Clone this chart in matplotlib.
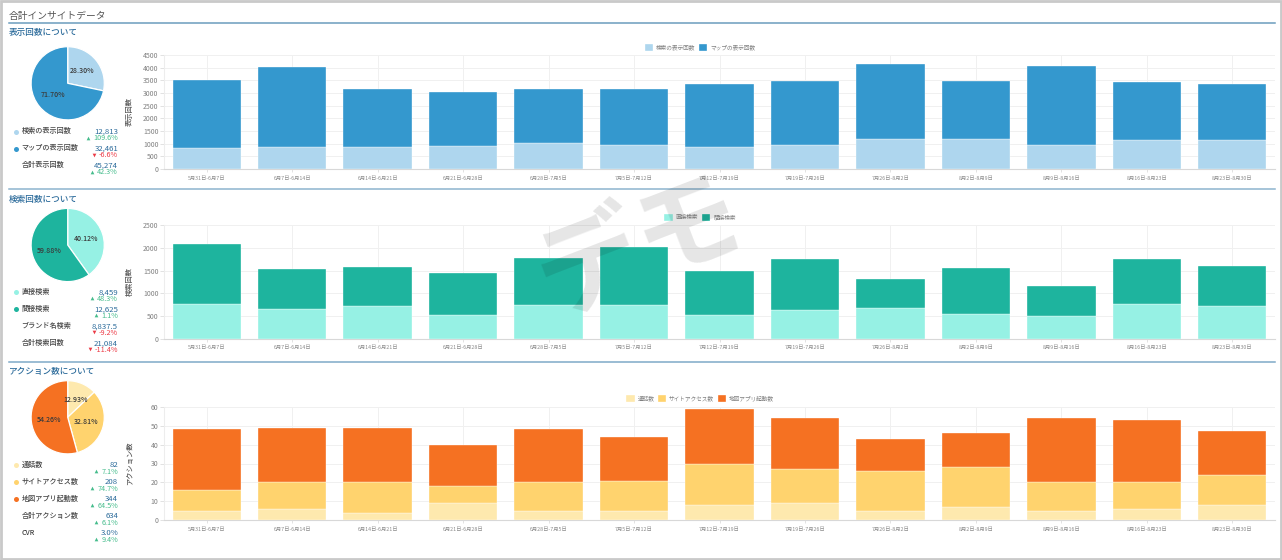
import matplotlib
matplotlib.use('Agg')
import numpy as np
import matplotlib.pyplot as plt
from matplotlib.patches import Rectangle

plt.rcParams['font.family'] = ['Noto Sans CJK JP', 'DejaVu Sans']

W, H = 1282, 560

date_labels = ['5月31日-6月7日', '6月7日-6月14日', '6月14日-6月21日', '6月21日-6月28日',
               '6月28日-7月5日', '7月5日-7月12日', '7月12日-7月19日', '7月19日-7月26日',
               '7月26日-8月2日', '8月2日-8月9日', '8月9日-8月16日', '8月16日-8月23日',
               '8月23日-8月30日']

# bar values
search_views = [830, 880, 880, 920, 1030, 950, 850, 930, 1190, 1190, 960, 1130, 1160]
map_views = [2670, 3150, 2270, 2120, 2130, 2200, 2490, 2540, 2940, 2290, 3120, 2310, 2180]

direct_search = [770, 650, 720, 510, 730, 740, 510, 620, 680, 550, 490, 770, 710]
indirect_search = [1310, 880, 860, 930, 1050, 1280, 990, 1140, 630, 1010, 680, 990, 890]

calls = [5, 6, 4, 9, 5, 5, 8, 9, 5, 7, 5, 6, 8]
site_access = [11, 14, 16, 9, 15, 16, 22, 18, 21, 21, 15, 14, 16]
map_launch = [32, 29, 29, 22, 28, 23, 29, 27, 17, 18, 34, 33, 23]

# pie totals
pie_views = [12813, 32461]
pie_search = [8459, 12625]
pie_action = [82, 208, 344]

# left hand summary: label, value, change
rows_views = [('検索の表示回数', '12,813', '109.6%'),
              ('マップの表示回数', '32,461', '-6.6%'),
              ('合計表示回数', '45,274', '42.3%')]
rows_search = [('直接検索', '8,459', '48.3%'),
               ('間接検索', '12,625', '1.1%'),
               ('ブランド名検索', '8,837.5', '-9.2%'),
               ('合計検索回数', '21,084', '-11.4%')]
rows_action = [('通話数', '82', '7.1%'),
               ('サイトアクセス数', '208', '74.7%'),
               ('地図アプリ起動数', '344', '64.5%'),
               ('合計アクション数', '634', '6.1%'),
               ('CVR', '3.0%', '9.4%')]

BLUES = ['#AED6EE', '#3498CE']
TEALS = ['#96F1E4', '#1EB49E']
ORANGES = ['#FEE9AE', '#FFD36E', '#F57122']
GREEN = '#45BC8C'
RED = '#EC3A46'
NAVY = '#2A6A9A'

fig = plt.figure(figsize=(W / 100, H / 100), dpi=100)
canvas = fig.add_axes([0, 0, 1, 1])
canvas.set_xlim(0, W)
canvas.set_ylim(H, 0)
canvas.axis('off')


def px_axes(left, top, right, bottom):
    return fig.add_axes([left / W, 1 - bottom / H, (right - left) / W, (bottom - top) / H])


def stacked_chart(top, bottom, ymax, step, ylabel, names, series, colors, legend_y):
    ax = px_axes(164, top, 1275, bottom)
    x = np.arange(len(date_labels))
    base = np.zeros(len(date_labels))
    for name, vals, col in zip(names, series, colors):
        ax.bar(x, vals, 0.8, bottom=base, color=col, edgecolor='white', linewidth=0.25,
               label=name, zorder=3)
        base += np.array(vals)
    ax.set_xlim(-0.5, 12.5)
    ax.set_ylim(0, ymax)
    ax.set_yticks(np.arange(0, ymax + 1, step))
    ax.set_xticks(x)
    ax.set_xticklabels(date_labels)
    ax.grid(True, color='#F0F0F0', linewidth=0.7, zorder=0)
    ax.set_axisbelow(True)
    for side in ['top', 'right']:
        ax.spines[side].set_visible(False)
    ax.spines['left'].set_color('#EDEDED')
    ax.spines['bottom'].set_color('#D8D8D8')
    ax.tick_params(axis='y', labelsize=5, labelcolor='#808080', color='#DDDDDD', length=3, width=0.6, pad=1)
    ax.tick_params(axis='x', labelsize=3.8, labelcolor='#8A8A8A', color='#DDDDDD', length=2, width=0.6, pad=3)
    ax.set_ylabel(ylabel, fontsize=5.2, color='#555555', fontweight='medium')
    ax.yaxis.set_label_coords(-30 / 1111, 0.5)
    ax.legend(loc='center', bbox_to_anchor=((700 - 164) / 1111, 1 - (legend_y - top) / (bottom - top)),
              ncol=len(names), frameon=False, fontsize=4.1, labelcolor='#808080',
              handlelength=1.5, handleheight=1.5, handletextpad=0.5, columnspacing=0.6)
    return ax


def pie_chart(cx, cy, vals, colors):
    r = 36.6 * 1.25
    ax = px_axes(cx - r, cy - r, cx + r, cy + r)
    wedges, _, pcts = ax.pie(vals, colors=colors, startangle=90, counterclock=False,
                             autopct='%.2f%%', pctdistance=0.52,
                             wedgeprops=dict(edgecolor='white', linewidth=0.9))
    for t in pcts:
        t.set_fontsize(5)
        t.set_color('#3A3A3A')
        t.set_fontweight('medium')
    return ax


def summary(rows, colors, y0, step=17):
    rend = fig.canvas.get_renderer()
    for i, (label, value, change) in enumerate(rows):
        y = y0 + i * step
        if i < len(colors):
            canvas.scatter([15.5], [y + 0.5], s=13, color=colors[i], linewidths=0)
        canvas.text(21.5, y, label, fontsize=5.1, color='#444444', fontweight='medium',
                    ha='left', va='center')
        canvas.text(118, y + 0.5, value, fontsize=5.6, color=NAVY, ha='right', va='center')
        neg = change.startswith('-')
        col = RED if neg else GREEN
        t = canvas.text(118, y + 7, change, fontsize=5.2, color=col, ha='right', va='center')
        w = t.get_window_extent(rend).width
        canvas.scatter([118 - w - 5], [y + 6.5], s=7, marker='v' if neg else '^',
                       color=col, linewidths=0)


# page frame and headings
canvas.add_patch(Rectangle((1, 1), W - 2, H - 2, fill=False, edgecolor='#C9C9C9', linewidth=2))
canvas.text(9, 16.5, '合計インサイトデータ', fontsize=7, color='#555555', ha='left', va='center')
canvas.plot([9, 1275], [23.3, 23.3], color='#6B9DBD', linewidth=1.1)
canvas.plot([9, 1275], [188.8, 188.8], color='#8DB4CE', linewidth=1.1)
canvas.plot([9, 1275], [361.8, 361.8], color='#7FA9C8', linewidth=1.1)
canvas.text(9, 32.5, '表示回数について', fontsize=6.2, color=NAVY, fontweight='medium', ha='left', va='center')
canvas.text(9, 199, '検索回数について', fontsize=6.2, color=NAVY, fontweight='medium', ha='left', va='center')
canvas.text(9, 371.7, 'アクション数について', fontsize=6.2, color=NAVY, fontweight='medium', ha='left', va='center')

pie_chart(67.7, 83.3, pie_views, BLUES)
pie_chart(67.7, 245, pie_search, TEALS)
pie_chart(67.7, 417.3, pie_action, ORANGES)

summary(rows_views, BLUES, 131)
summary(rows_search, TEALS, 291.7)
summary(rows_action, ORANGES, 464.7)

stacked_chart(55, 169, 4500, 500, '表示回数', ['検索の表示回数', 'マップの表示回数'],
              [search_views, map_views], BLUES, 47.5)
stacked_chart(225.3, 338.5, 2500, 500, '検索回数', ['直接検索', '間接検索'],
              [direct_search, indirect_search], TEALS, 217.5)
stacked_chart(406.7, 520.3, 60, 10, 'アクション数', ['通話数', 'サイトアクセス数', '地図アプリ起動数'],
              [calls, site_access, map_launch], ORANGES, 398.5)

# watermark sits over everything
fig.text(640 / W, 1 - 247 / H, 'デモ', fontsize=76, fontweight='bold', color='black', alpha=0.1,
         rotation=21, ha='center', va='center', zorder=20)

fig.savefig('out.png', dpi=100)
